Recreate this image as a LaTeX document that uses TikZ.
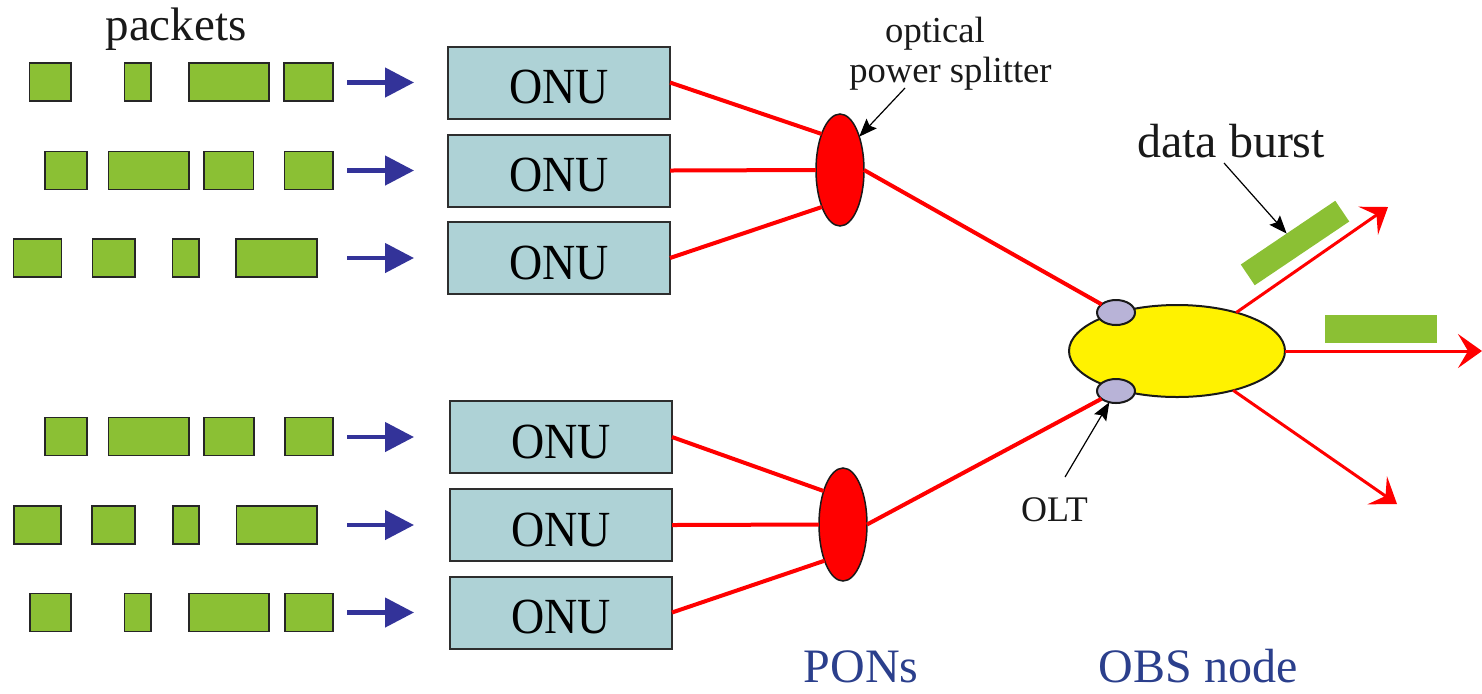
\documentclass[tikz,border=0pt]{standalone}
\usepackage{fontspec}
\setmainfont{Liberation Serif}
\usetikzlibrary{arrows.meta,shapes.geometric}

\definecolor{pktgreen}{HTML}{8BC034}
\definecolor{onufill}{HTML}{AED2D6}
\definecolor{onuedge}{HTML}{2E2E2E}
\definecolor{feedblue}{HTML}{333399}
\definecolor{fibrered}{HTML}{FF0000}
\definecolor{nodeyellow}{HTML}{FFF200}
\definecolor{oltfill}{HTML}{B8B3D7}
\definecolor{captionblue}{HTML}{2B3F8C}

\tikzset{
  pkt/.style={draw=black!85, line width=0.75pt, fill=pktgreen, inner sep=0pt, outer sep=0pt, minimum height=19pt},
  onu/.style={draw=onuedge, line width=1pt, fill=onufill, inner sep=0pt, outer sep=0pt,
    minimum width=111pt, minimum height=36pt, text height=21.5pt,
    font=\fontsize{23}{26}\selectfont},
  splitter/.style={ellipse, draw=black!90, line width=0.75pt, fill=fibrered, inner sep=0pt, outer sep=0pt,
    minimum width=24pt, minimum height=56pt},
  obsnode/.style={ellipse, draw=black!90, line width=1pt, fill=nodeyellow, inner sep=0pt, outer sep=0pt,
    minimum width=108pt, minimum height=46pt},
  olt/.style={ellipse, draw=black!90, line width=1pt, fill=oltfill, inner sep=0pt, outer sep=0pt,
    minimum width=19pt, minimum height=12.5pt},
  burst/.style={fill=pktgreen, inner sep=0pt, outer sep=0pt},
  feed/.style={feedblue, line width=2.3pt, -{Triangle[length=14.5pt,width=14.5pt]}},
  fibre/.style={fibrered, line width=2pt},
  outlink/.style={fibrered, line width=1.5pt, -{Stealth[length=12pt,width=17pt,inset=5pt]}},
  callout/.style={black, line width=0.6pt, -{Stealth[length=9pt,width=7pt,inset=1.5pt]}},
  lbl/.style={inner sep=0pt, outer sep=0pt, anchor=base, text=black!90},
}

% one row of queued packets: name prefix, centre y, list of left/right edges
\newcommand\packetrow[3]{%
  \foreach \pl/\pr [count=\pi] in {#3} {%
    \pgfmathsetmacro\pw{(\pr-\pl)*0.5}%
    \node[pkt, minimum width=\pw pt] (#1-\pi) at ({(\pl+\pr)/2},#2) {};
  }%
}

\begin{document}
\begin{tikzpicture}[x=0.5pt, y=-0.5pt]
\useasboundingbox (0,0) rectangle (1482,693);

% packet queues
\packetrow{q1}{82}{29.5/71,124.5/151,189/269,284/333}
\packetrow{q2}{170.5}{45/87,108.5/189,204/253.5,284.5/333}
\packetrow{q3}{258}{13.5/61.5,92.4/135,172.5/199,236/317}
\packetrow{q4}{436.5}{45/87,108.5/189,204/254,285/333}
\packetrow{q5}{525}{13.8/61,92/135,173/199,236.5/317}
\packetrow{q6}{612.5}{30/71,124.6/151,189/269,285/333}

% ONUs
\node[onu] (onu1) at (559,82.5) {\scalebox{1}[1.1]{ONU}};
\node[onu] (onu2) at (559,170.5) {\scalebox{1}[1.1]{ONU}};
\node[onu] (onu3) at (559,258) {\scalebox{1}[1.1]{ONU}};
\node[onu] (onu4) at (561,437) {\scalebox{1}[1.1]{ONU}};
\node[onu] (onu5) at (561,525) {\scalebox{1}[1.1]{ONU}};
\node[onu] (onu6) at (561,612.5) {\scalebox{1}[1.1]{ONU}};

% packets entering the ONUs
\foreach \k in {1,2,3} \draw[feed] ([xshift=-50.5pt]onu\k.west) -- ([xshift=-17pt]onu\k.west);
\foreach \k in {4,5,6} \draw[feed] ([xshift=-51.5pt]onu\k.west) -- ([xshift=-18pt]onu\k.west);

% splitters, OBS node and its OLT ports
\node[splitter] (sp1) at (840,170) {};
\node[splitter, minimum height=56.5pt] (sp2) at (843,524.5) {};
\node[obsnode] (obs) at (1177,351) {};
\node[olt] (olt1) at (1116,312.5) {};
\node[olt, minimum height=12pt] (olt2) at (1116,391) {};

% fibres
\draw[fibre] (onu1.east) -- (sp1.117);
\draw[fibre] (onu2.east) -- (sp1.west);
\draw[fibre] (onu3.east) -- (sp1.244);
\draw[fibre] (onu4.east) -- (sp2.120);
\draw[fibre] (onu5.east) -- (sp2.west);
\draw[fibre] (onu6.east) -- (sp2.243);
\draw[fibre] (sp1.east) -- (olt1);
\draw[fibre] (sp2.east) -- (olt2);

% outgoing links
\coordinate (out1) at (1388,207);
\coordinate (out2) at (1482,351);
\coordinate (out3) at (1397,504);
\draw[outlink] (obs.33) -- (out1);
\draw[outlink] (obs.east) -- (out2);
\draw[outlink] (obs.325) -- (out3);

% data bursts
\node[burst, minimum width=57pt, minimum height=12.5pt, rotate=34] (burst1) at (1295,243) {};
\node[burst, minimum width=56pt, minimum height=14pt] (burst2) at (1381,329) {};

% labels
\node[lbl, font=\fontsize{23.5}{28}\selectfont] (tpackets) at (176,40) {packets};
\node[lbl, font=\fontsize{18.3}{22}\selectfont] (topt1) at (935,42) {optical};
\node[lbl, font=\fontsize{18.3}{22}\selectfont] (topt2) at (950.5,82) {power splitter};
\node[lbl, font=\fontsize{24}{28}\selectfont] (tburst) at (1231,157) {data burst};
\node[lbl, font=\fontsize{18}{22}\selectfont] (tolt) at (1054.5,521) {OLT};
\node[lbl, font=\fontsize{24}{28}\selectfont, text=captionblue] (tpons) at (861,682) {PONs};
\node[lbl, font=\fontsize{24}{28}\selectfont, text=captionblue] (tobs) at (1198,682) {OBS node};

% callouts
\coordinate (c1) at (905,88);
\coordinate (c2) at (1224,163);
\coordinate (c3) at (1065,477);
\draw[callout] (c1) -- (sp1.60);
\draw[callout] (c2) -- (burst1);
\draw[callout] (c3) -- (olt2);
\end{tikzpicture}
\end{document}
